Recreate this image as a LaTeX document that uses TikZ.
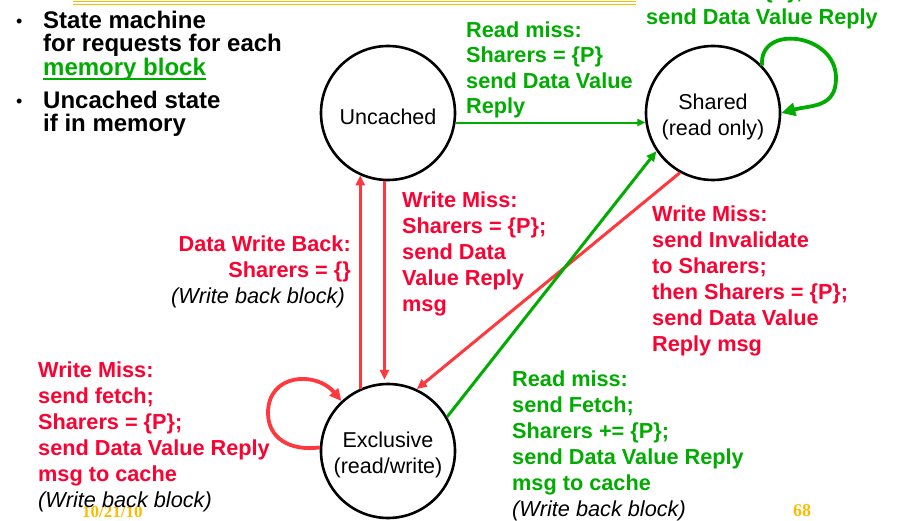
\documentclass[tikz,border=0pt]{standalone}
\usepackage{fontspec}
\setmainfont{Liberation Sans}
\newfontfamily\serifnum{Liberation Serif}
\usetikzlibrary{arrows.meta}

\definecolor{gtext}{RGB}{0,172,0}
\definecolor{rtext}{RGB}{250,2,50}
\definecolor{rline}{RGB}{255,56,62}
\definecolor{gold}{RGB}{250,188,0}

% underlined phrase with a rule that crosses the descenders
\newcommand\blockline[1]{\setbox0=\hbox{#1}\rlap{\rule[-4.5pt]{\wd0}{1.8pt}}\box0}

\tikzset{
  state/.style={circle, draw=black, line width=2.6pt, minimum size=134pt, inner sep=0pt},
  statetext/.style={inner sep=0pt, align=center, yshift=-3.5pt,
    font=\fontsize{21.5}{26}\selectfont},
  lbl/.style={inner sep=0pt, anchor=north west, align=left,
    font=\fontsize{21.7}{26}\selectfont\bfseries},
  gl/.style={lbl, text=gtext},
  rl/.style={lbl, text=rtext},
  bulletlist/.style={inner sep=0pt, anchor=north west, align=left,
    font=\fontsize{24}{23.5}\selectfont\bfseries},
  dot/.style={inner sep=0pt, anchor=base west, font=\fontsize{18}{18}\selectfont},
  redarrow/.style={draw=rline, line width=3pt, -{Triangle[length=10pt,width=9pt]}},
  greenarrow/.style={draw=gtext, line width=3pt, -{Triangle[length=10pt,width=9pt]}},
  greenthin/.style={draw=gtext, line width=2pt, -{Triangle[length=8pt,width=7pt]}},
  redloop/.style={draw=rline, line width=3.8pt, -{Triangle[length=12pt,width=11pt]}},
  greenloop/.style={draw=gtext, line width=3.8pt, -{Triangle[length=14pt,width=13pt]}},
  footer/.style={inner sep=0pt, anchor=base west, text=gold},
}

\newcommand\wbb{\textcolor{black}{\mdseries\itshape (Write back block)}}

\begin{document}
\begin{tikzpicture}[x=1pt,y=-1pt]
\clip (0,0) rectangle (899,521);

% double rule along the top
\draw[gold, line width=1.2pt] (73,1.3) -- (636,1.3);
\draw[gold, line width=1.8pt] (73,4.6) -- (636,4.6);

% footer
\node[footer, font=\serifnum\bfseries\fontsize{17}{17}\selectfont] (date) at (82,517) {10/21/10};
\node[footer, font=\serifnum\bfseries\fontsize{18}{18}\selectfont] (page) at (793,516) {68};

% bullet points
\node[dot] (b1) at (16,28) {•};
\node[bulletlist] (list1) at (43,10.8)
  {State machine\\for requests for each\\\textcolor{gtext}{\blockline{memory block}}};
\node[dot] (b2) at (16,108) {•};
\node[bulletlist] (list2) at (43,90.8) {Uncached state\\if in memory};

% states
\node[state] (unc) at (388,113) {};
\node[state] (shr) at (713,113) {};
\node[state] (exc) at (388,451) {};
\node[statetext] (uncT) at (unc.center) {Uncached};
\node[statetext] (shrT) at (shr.center) {Shared\\(read only)};
\node[statetext] (excT) at (exc.center) {Exclusive\\(read/write)};

% transitions
\draw[greenthin] (unc.-8) -- (shr.188);
\draw[redarrow] (exc.114) -- (unc.246);
\draw[redarrow, shorten >=3pt] (unc.267) -- (exc.93);
\draw[redarrow] (shr.241) -- (exc.65);
\draw[greenarrow] (exc.30) -- (shr.214);

\coordinate (gturn) at (836,78);
\draw[greenloop] (shr.44) .. controls +(-4,-42) and +(0,-45) .. (gturn)
  .. controls +(0,30) and +(30,-8) .. (shr.0);
\coordinate (rturn) at (268,413);
\draw[redloop] (exc.177) .. controls +(-30,4) and +(0,25) .. (rturn)
  .. controls +(0,-40) and +(-25,-30) .. (exc.133);

% transition labels
\node[gl, font=\fontsize{21.7}{25.5}\selectfont\bfseries] (rm1) at (466,21.5)
  {Read miss:\\Sharers = \{P\}\\send Data Value\\Reply};
\node[gl] (rm2) at (646,-17.5) {Sharers += \{P\};\\send Data Value Reply};
\node[rl] (wm1) at (402,191.5)
  {Write Miss:\\Sharers = \{P\};\\send Data\\Value Reply\\msg};
\node[rl, anchor=north east, align=right] (dwb) at (351,235.5)
  {Data Write Back:\\Sharers = \{\}\\\wbb\hspace*{6pt}};
\node[rl] (wm2) at (652,205.5)
  {Write Miss:\\send Invalidate\\to Sharers;\\then Sharers = \{P\};\\send Data Value\\Reply msg};
\node[rl] (wm3) at (38,361.5)
  {Write Miss:\\send fetch;\\Sharers = \{P\};\\send Data Value Reply\\msg to cache\\\wbb};
\node[gl] (rm3) at (512,370.5)
  {Read miss:\\send Fetch;\\Sharers += \{P\};\\send Data Value Reply\\msg to cache\\\wbb};
\end{tikzpicture}
\end{document}
